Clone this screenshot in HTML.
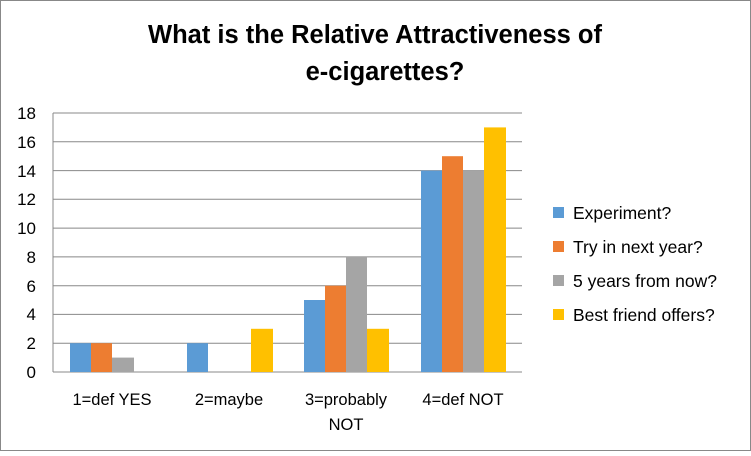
<!DOCTYPE html>
<html><head><style>body{margin:0}</style></head><body>
<svg width="751" height="451" xmlns="http://www.w3.org/2000/svg" font-family="Liberation Sans, sans-serif">
<rect x="0.5" y="0.5" width="750" height="450" fill="#fff" stroke="#888"/>
<text x="375" y="43" text-anchor="middle" font-size="25.5" font-weight="bold">What is the Relative Attractiveness of</text>
<text x="385" y="80" text-anchor="middle" font-size="25.5" font-weight="bold">e-cigarettes?</text>
<g stroke="#888" stroke-width="1">
<line x1="53" x2="522" y1="113" y2="113"/><line x1="53" x2="522" y1="141.8" y2="141.8"/><line x1="53" x2="522" y1="170.6" y2="170.6"/><line x1="53" x2="522" y1="199.3" y2="199.3"/><line x1="53" x2="522" y1="228.1" y2="228.1"/><line x1="53" x2="522" y1="256.9" y2="256.9"/><line x1="53" x2="522" y1="285.7" y2="285.7"/><line x1="53" x2="522" y1="314.4" y2="314.4"/><line x1="53" x2="522" y1="343.2" y2="343.2"/><line x1="53" x2="522" y1="372" y2="372"/>
<line x1="53" x2="53" y1="113" y2="372"/>
</g>
<g font-size="17" text-anchor="end" fill="#000">
<text x="36" y="119">18</text><text x="36" y="148">16</text><text x="36" y="177">14</text><text x="36" y="205">12</text><text x="36" y="234">10</text><text x="36" y="263">8</text><text x="36" y="292">6</text><text x="36" y="320">4</text><text x="36" y="349">2</text><text x="36" y="378">0</text>
</g>
<g>
<rect x="70" y="343.2" width="21" height="28.8" fill="#5b9bd5"/><rect x="91" y="343.2" width="21" height="28.8" fill="#ed7d31"/><rect x="112" y="357.6" width="22" height="14.4" fill="#a5a5a5"/>
<rect x="187" y="343.2" width="21" height="28.8" fill="#5b9bd5"/><rect x="251" y="328.8" width="22" height="43.2" fill="#ffc000"/>
<rect x="304" y="300" width="21" height="72" fill="#5b9bd5"/><rect x="325" y="285.7" width="21" height="86.3" fill="#ed7d31"/><rect x="346" y="256.9" width="21" height="115.1" fill="#a5a5a5"/><rect x="367" y="328.8" width="22" height="43.2" fill="#ffc000"/>
<rect x="421" y="170.6" width="21" height="201.4" fill="#5b9bd5"/><rect x="442" y="156.2" width="21" height="215.8" fill="#ed7d31"/><rect x="463" y="170.6" width="21" height="201.4" fill="#a5a5a5"/><rect x="484" y="127.4" width="22" height="244.6" fill="#ffc000"/>
</g>
<g font-size="16.5" text-anchor="middle">
<text x="112" y="405">1=def YES</text><text x="229" y="405">2=maybe</text><text x="346" y="405">3=probably</text><text x="346" y="430">NOT</text><text x="463" y="405">4=def NOT</text>
</g>
<g font-size="17.5">
<rect x="553" y="207" width="11" height="11" fill="#5b9bd5"/><text x="573" y="219">Experiment?</text>
<rect x="553" y="241" width="11" height="11" fill="#ed7d31"/><text x="573" y="253">Try in next year?</text>
<rect x="553" y="275" width="11" height="11" fill="#a5a5a5"/><text x="573" y="287">5 years from now?</text>
<rect x="553" y="309" width="11" height="11" fill="#ffc000"/><text x="573" y="321">Best friend offers?</text>
</g>
</svg>
</body></html>
